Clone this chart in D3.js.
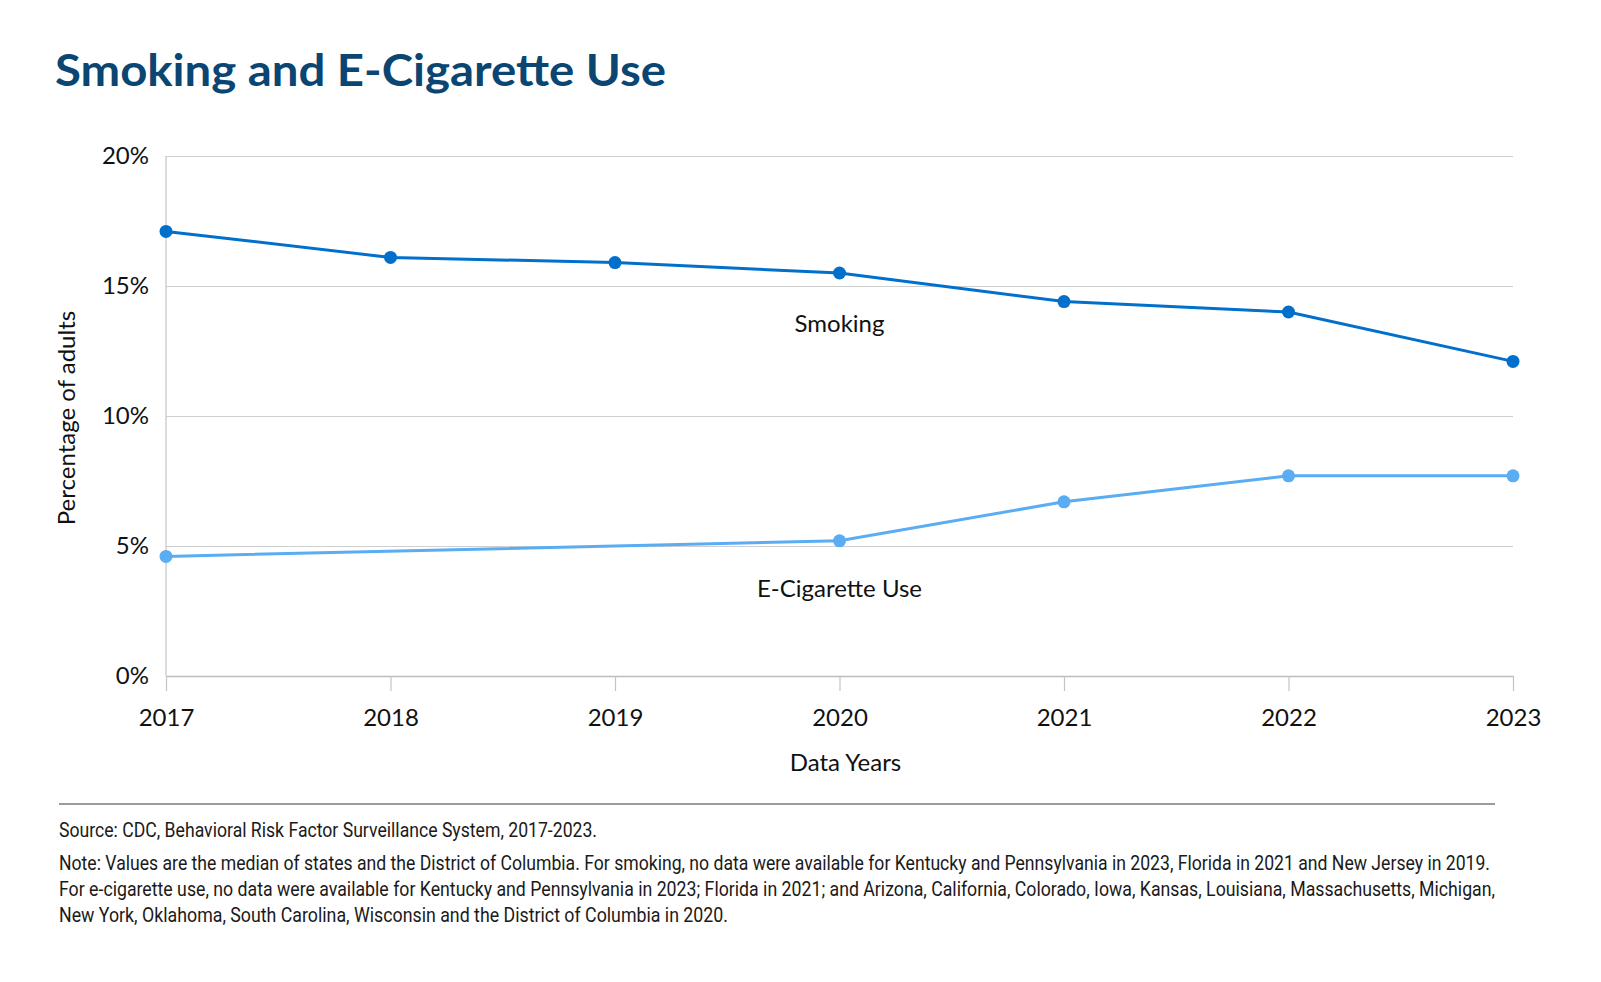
<!DOCTYPE html>
<html lang="en">
<head>
    <meta charset="UTF-8">
    <title>Smoking and E-Cigarette Use</title>
    <style>
        body { margin: 0; background: #fff; overflow: hidden; }
        svg { display: block; }
        .axis text { font-family: Lato, "Noto Sans", sans-serif; font-size: 24px; fill: #111; }
    </style>
</head>
<body>
    <script src="https://d3js.org/d3.v7.min.js"></script>
    <script>
        // data
        const years = [2017, 2018, 2019, 2020, 2021, 2022, 2023];
        const smoking = [17.1, 16.1, 15.9, 15.5, 14.4, 14.0, 12.1];
        const ecig = [4.6, null, null, 5.2, 6.7, 7.7, 7.7]; // no e-cig question in 2018/2019
        const yTicks = [0, 5, 10, 15, 20];
        const seriesNames = ['Smoking', 'E-Cigarette Use'];
        const seriesColors = ['#0070cc', '#5aacf3'];
        // where the series names sit (year, value)
        const labelSpots = [[2020, 13.25], [2020, 3.05]];
        const footNotes = [
            'Source: CDC, Behavioral Risk Factor Surveillance System, 2017-2023.',
            'Note: Values are the median of states and the District of Columbia. For smoking, no data were available for Kentucky and Pennsylvania in 2023, Florida in 2021 and New Jersey in 2019.',
            'For e-cigarette use, no data were available for Kentucky and Pennsylvania in 2023; Florida in 2021; and Arizona, California, Colorado, Iowa, Kansas, Louisiana, Massachusetts, Michigan,',
            'New York, Oklahoma, South Carolina, Wisconsin and the District of Columbia in 2020.'
        ];
        const footWidths = [538, 1431, 1436, 669];

        const width = 1601, height = 982;
        const margin = { top: 156, right: 88, bottom: 306, left: 166 };
        const innerWidth = width - margin.left - margin.right;
        const innerHeight = height - margin.top - margin.bottom;

        const svg = d3.select('body').append('svg')
            .attr('width', width)
            .attr('height', height);

        // title
        svg.append('text')
            .text('Smoking and E-Cigarette Use')
            .attr('x', 55)
            .attr('y', 86)
            .attr('fill', '#0b4572')
            .attr('font-family', 'Lato, sans-serif')
            .attr('font-weight', 700)
            .attr('font-size', 43)
            .attr('textLength', 611)
            .attr('lengthAdjust', 'spacingAndGlyphs');

        const xScale = d3.scalePoint().domain(years).range([0, innerWidth]);
        const yScale = d3.scaleLinear().domain([0, 20]).range([innerHeight, 0]);

        const g = svg.append('g').attr('transform', `translate(${margin.left}, ${margin.top})`);

        // y axis + grid
        const yAxis = d3.axisLeft(yScale)
            .tickValues(yTicks)
            .tickSize(-innerWidth)
            .tickPadding(17)
            .tickFormat(d => d + '%');
        const yAxisGroup = g.append('g').attr('class', 'axis').call(yAxis);
        yAxisGroup.select('.domain').remove();
        yAxisGroup.selectAll('.tick line').attr('stroke', '#cfcfcf').attr('stroke-width', 1);

        // left axis line
        g.append('line')
            .attr('x1', 0).attr('x2', 0)
            .attr('y1', 0).attr('y2', innerHeight)
            .attr('stroke', '#c4c4c4').attr('stroke-width', 1.2);

        // x axis
        const xAxis = d3.axisBottom(xScale).tickSize(15).tickPadding(12).tickSizeOuter(0);
        const xAxisGroup = g.append('g').attr('class', 'axis')
            .attr('transform', `translate(0, ${innerHeight})`)
            .call(xAxis);
        xAxisGroup.select('.domain').attr('stroke', '#bdbdbd').attr('stroke-width', 1.5);
        xAxisGroup.selectAll('.tick line').attr('stroke', '#c4c4c4').attr('stroke-width', 1.2);
        xAxisGroup.selectAll('.tick text').attr('dy', '0.95em');

        // axis titles
        g.append('text')
            .text('Data Years')
            .attr('x', innerWidth / 2 + 6)
            .attr('y', innerHeight + 95)
            .attr('text-anchor', 'middle')
            .attr('font-family', 'Lato, sans-serif')
            .attr('font-size', 24)
            .attr('fill', '#111');

        g.append('text')
            .text('Percentage of adults')
            .attr('transform', `translate(-91, ${innerHeight / 2 + 2}) rotate(-90)`)
            .attr('text-anchor', 'middle')
            .attr('font-family', 'Lato, sans-serif')
            .attr('font-size', 24)
            .attr('fill', '#111');

        // lines
        const seriesData = [smoking, ecig].map((vals, i) => ({
            name: seriesNames[i],
            color: seriesColors[i],
            points: years.map((y, j) => ({ year: y, value: vals[j] })).filter(p => p.value !== null)
        }));

        const line = d3.line()
            .x(d => xScale(d.year))
            .y(d => yScale(d.value));

        const series = g.selectAll('.g-series').data(seriesData).join('g')
            .attr('class', 'g-series');

        series.append('path')
            .attr('d', d => line(d.points))
            .attr('fill', 'none')
            .attr('stroke', d => d.color)
            .attr('stroke-width', 3);

        series.selectAll('circle').data(d => d.points.map(p => ({ ...p, color: d.color }))).join('circle')
            .attr('cx', d => xScale(d.year))
            .attr('cy', d => yScale(d.value))
            .attr('r', 6.5)
            .attr('fill', d => d.color);

        // series labels
        g.selectAll('.s-label').data(seriesNames).join('text')
            .attr('class', 's-label')
            .text(d => d)
            .attr('x', (d, i) => xScale(labelSpots[i][0]))
            .attr('y', (d, i) => yScale(labelSpots[i][1]))
            .attr('text-anchor', 'middle')
            .attr('font-family', 'Lato, sans-serif')
            .attr('font-size', 24)
            .attr('fill', '#111');

        // footer
        svg.append('line')
            .attr('x1', 59).attr('x2', 1495)
            .attr('y1', 804).attr('y2', 804)
            .attr('stroke', '#7a7a7a').attr('stroke-width', 1.5);

        svg.selectAll('.foot').data(footNotes).join('text')
            .attr('class', 'foot')
            .text(d => d)
            .attr('x', 59)
            .attr('y', (d, i) => i === 0 ? 837 : 844 + i * 26)
            .attr('font-family', 'Roboto, sans-serif')
            .attr('font-size', 19.5)
            .attr('fill', '#1a1a1a')
            .attr('textLength', (d, i) => footWidths[i])
            .attr('lengthAdjust', 'spacingAndGlyphs');
    </script>
</body>
</html>
